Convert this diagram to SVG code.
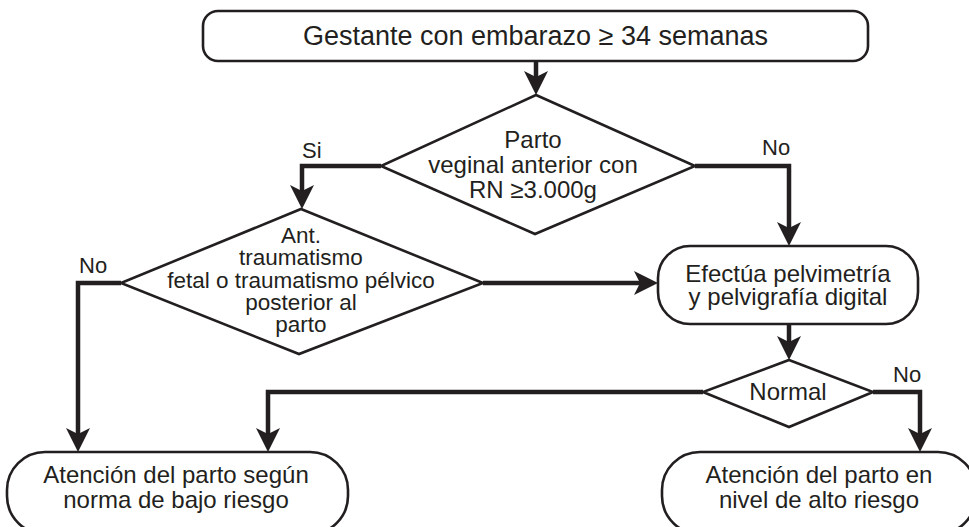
<svg xmlns="http://www.w3.org/2000/svg" width="969" height="527" viewBox="0 0 969 527">
<style>
.box{fill:#fff;stroke:#231f20;stroke-width:2.6}
.t{font-family:"Liberation Sans",Arial,sans-serif;font-size:24px;fill:#231f20;text-anchor:middle}
.top{font-size:27px}
.sm{font-size:22.5px}
.lbl{font-family:"Liberation Sans",Arial,sans-serif;font-size:22px;fill:#231f20}
.c{fill:none;stroke:#231f20;stroke-width:4.5;stroke-linejoin:miter;marker-end:url(#ah)}
</style>
<defs>
<marker id="ah" markerUnits="userSpaceOnUse" markerWidth="40" markerHeight="40" viewBox="-20 -20 40 40" refX="0" refY="0" orient="auto" overflow="visible">
<path d="M8,0 L-16,-12 L-10,0 L-16,12 Z" fill="#231f20"/>
</marker>
</defs>
<rect width="969" height="527" fill="#fff"/>
<g id="connectors">
<path class="c" d="M536,61 V87"/>
<path class="c" d="M381,166 H302 V201"/>
<path class="c" d="M695,166 H789 V238"/>
<path class="c" d="M483,283 H650"/>
<path class="c" d="M121,283 H78 V444"/>
<path class="c" d="M789,324 V352"/>
<path class="c" d="M703,392 H268 V444"/>
<path class="c" d="M873,392 H920 V444"/>
<text class="lbl" x="302" y="158">Si</text>
<text class="lbl" x="762" y="155">No</text>
<text class="lbl" x="79" y="273">No</text>
<text class="lbl" x="893" y="382">No</text>
</g>
<g id="start">
<rect class="box" x="203" y="11" width="665" height="50" rx="15"/>
<text class="t top" x="535.5" y="45">Gestante con embarazo ≥ 34 semanas</text>
</g>
<g id="d1">
<polygon class="box" points="536,95 695,166 535,234 381,166"/>
<text class="t" x="533" y="148">Parto</text>
<text class="t" x="533" y="173">veginal anterior con</text>
<text class="t" x="533" y="198">RN ≥3.000g</text>
</g>
<g id="d2">
<polygon class="box" points="301,209 483,283 299,354 121,283"/>
<text class="t sm" x="301" y="243">Ant.</text>
<text class="t sm" x="301" y="265">traumatismo</text>
<text class="t sm" x="301" y="288">fetal o traumatismo pélvico</text>
<text class="t sm" x="301" y="310">posterior al</text>
<text class="t sm" x="301" y="332">parto</text>
</g>
<g id="pelv">
<rect class="box" x="658" y="246" width="260" height="78" rx="32"/>
<text class="t" x="788" y="282">Efectúa pelvimetría</text>
<text class="t" x="788" y="305">y pelvigrafía digital</text>
</g>
<g id="normal">
<polygon class="box" points="789,360 873,392 789,427 703,392"/>
<text class="t" x="788" y="400">Normal</text>
</g>
<g id="bajo">
<rect class="box" x="7" y="452" width="341" height="82" rx="38"/>
<text class="t" x="176" y="483">Atención del parto según</text>
<text class="t" x="176" y="508">norma de bajo riesgo</text>
</g>
<g id="alto">
<rect class="box" x="662" y="452" width="314" height="82" rx="38"/>
<text class="t" x="819" y="483">Atención del parto en</text>
<text class="t" x="819" y="508">nivel de alto riesgo</text>
</g>
</svg>
